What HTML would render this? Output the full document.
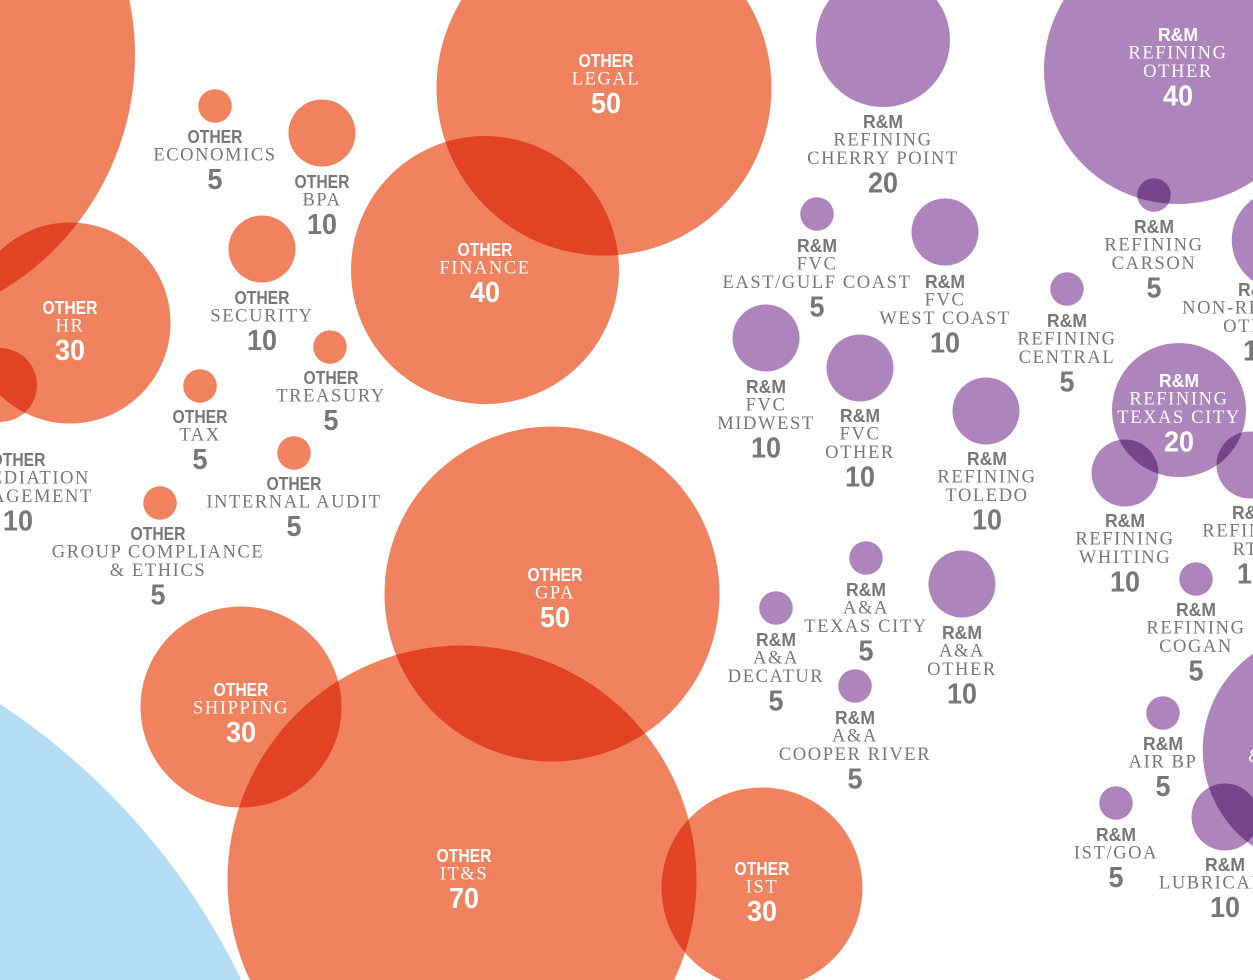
<!DOCTYPE html>
<html><head><meta charset="utf-8"><style>
html,body{margin:0;padding:0;background:#fff;width:1253px;height:980px;overflow:hidden}
svg{display:block;overflow:hidden}
.h{font-family:"Liberation Sans Narrow","Liberation Sans",sans-serif;font-weight:bold;font-size:18px}
.n{font-family:"Liberation Serif",serif;font-size:18.5px;letter-spacing:1.6px}
.v{font-family:"Liberation Sans Narrow","Liberation Sans",sans-serif;font-weight:bold;font-size:29px}
</style></head><body>
<svg id="chart" width="1253" height="980" viewBox="0 0 1253 980" xmlns="http://www.w3.org/2000/svg">
<circle cx="-380" cy="1280" r="690" fill="#B3DDF5"/>
<g id="circles"></g><g id="labels"></g>
</svg>
<script>
const groups = ['o','o','o','o','o','o','o','o','o','o','o','o','o','o','o','o','p','p','p','p','p','p','p','p','p','p','p','p','p','p','p','p','p','p','p','p','p','p'];
const headers = ['OTHER','OTHER','OTHER','OTHER','OTHER','OTHER','OTHER','OTHER','OTHER','OTHER','OTHER','OTHER','OTHER','OTHER','OTHER','OTHER','R&M','R&M','R&M','R&M','R&M','R&M','R&M','R&M','R&M','R&M','R&M','R&M','R&M','R&M','R&M','R&M','R&M','R&M','R&M','R&M','R&M','R&M'];
const names = [['BIG'],['LEGAL'],['FINANCE'],['HR'],['REMEDIATION','MANAGEMENT'],['ECONOMICS'],['BPA'],['SECURITY'],['TREASURY'],['TAX'],['INTERNAL AUDIT'],['GROUP COMPLIANCE','& ETHICS'],['GPA'],['SHIPPING'],['IT&S'],['IST'],
['REFINING','OTHER'],['REFINING','CHERRY POINT'],['REFINING','CARSON'],['NON-REFINING','OTHER'],['FVC','EAST/GULF COAST'],['FVC','WEST COAST'],['REFINING','CENTRAL'],['FVC','MIDWEST'],['FVC','OTHER'],['REFINING','TEXAS CITY'],['REFINING','TOLEDO'],['REFINING','WHITING'],['REFINING','RTL'],['REFINING','COGAN'],['A&A','TEXAS CITY'],['A&A','OTHER'],['A&A','DECATUR'],['A&A','COOPER RIVER'],['AIR BP'],['IST/GOA'],['LUBRICANTS'],['BIOFUELS','& CHEMICALS']];
const values = [82,50,40,30,10,5,10,10,5,5,5,5,50,30,70,30, 40,20,5,15,5,10,5,10,10,20,10,10,10,5,5,10,5,5,5,5,10,35];
const cxs = [-140,604,485,70,0,215,322,262,330,200,294,160,552,241,462,762, 1178,883,1154,1282,817,945,1067,766,860,1179,986,1125,1250,1196,866,962,776,855,1163,1116,1225,1320];
const cys = [55,88,270,323,385,106,133,249,347,386,453,503,594,707,880,888, 70,40,195,240,214,232,289,338,368,410,411,473,465,579,558,584,608,686,713,803,817,750];
const lxs = [-999,606,485,70,18,215,322,262,331,200,294,158,555,241,464,762, 1178,883,1154,1258,817,945,1067,766,860,1179,987,1125,1252,1196,866,962,776,855,1163,1116,1225,1320];
const lys = [-999,61,250,308,460,137,182,298,378,417,484,534,575,690,856,869, 35,122,227,290,246,282,321,387,416,381,459,521,513,610,590,633,640,718,744,835,865,720];
const insides = [1,1,1,1,0,0,0,0,0,0,0,0,1,1,1,1, 1,0,0,0,0,0,0,0,0,1,0,0,0,0,0,0,0,0,0,0,0,1];
const rScale = v => v*3.35;
const NS='http://www.w3.org/2000/svg';
const cg=document.getElementById('circles'), lg=document.getElementById('labels');
for(let i=0;i<values.length;i++){
  const c=document.createElementNS(NS,'circle');
  c.setAttribute('cx',cxs[i]);c.setAttribute('cy',cys[i]);c.setAttribute('r',i===0?275:(i===4?37:rScale(values[i])));
  c.setAttribute('fill',groups[i]==='o'?'#F0825F':'#AE84BD');
  c.setAttribute('style','mix-blend-mode:multiply');
  
  
  cg.appendChild(c);
  if(lys[i]<-100) continue;
  const col=insides[i]?'#ffffff':'#777777';
  const g=document.createElementNS(NS,'g');
  
  
  let y=lys[i];
  const mk=(cls,txt,yy,len)=>{const t=document.createElementNS(NS,'text');t.setAttribute('class',cls);t.setAttribute('x',lxs[i]);t.setAttribute('y',yy);t.setAttribute('text-anchor','middle');t.setAttribute('dominant-baseline','central');t.setAttribute('fill',col);if(len){t.setAttribute('textLength',len);t.setAttribute('lengthAdjust','spacingAndGlyphs');}t.textContent=txt;g.appendChild(t);};
  mk('h',headers[i],y,headers[i]==='OTHER'?55:40);
  names[i].forEach(n=>{y+=18.5;mk('n',n,y,0);});
  y+=24.5;const vs=String(values[i]);mk('v',vs,y,vs.length*15);
  lg.appendChild(g);
}
</script>
</body></html>
